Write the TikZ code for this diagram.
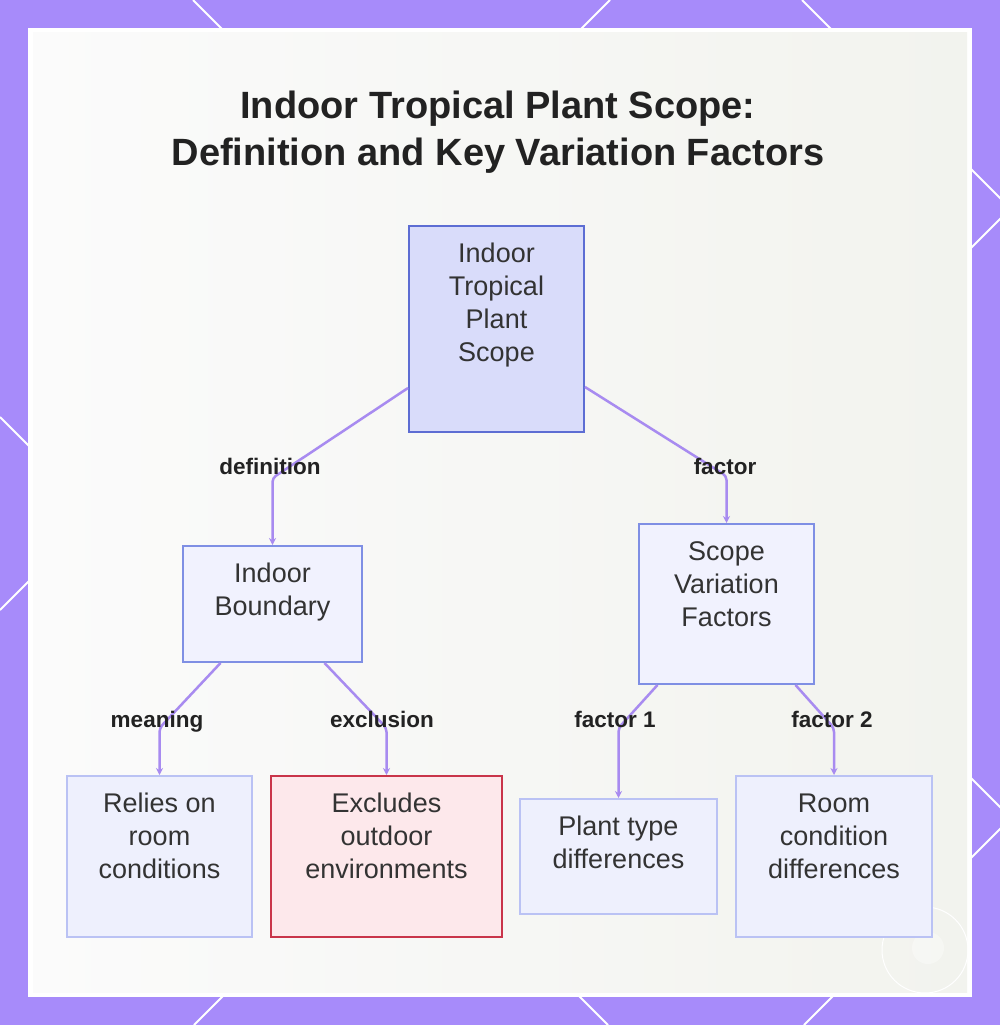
\documentclass[tikz,border=0pt]{standalone}
\usepackage{fontspec}
\setmainfont{Liberation Sans}
\usetikzlibrary{arrows.meta,calc}
\definecolor{framec}{HTML}{A78BFA}
\definecolor{edgec}{HTML}{A88BF0}
\definecolor{titlec}{HTML}{222222}
\definecolor{textc}{HTML}{333333}
\definecolor{rootfill}{HTML}{D9DCFA}
\definecolor{rootdraw}{HTML}{5D6DD3}
\definecolor{midfill}{HTML}{F1F2FE}
\definecolor{middraw}{HTML}{7F8FE4}
\definecolor{leaffill}{HTML}{EEF0FD}
\definecolor{leafdraw}{HTML}{BAC2F4}
\definecolor{exfill}{HTML}{FDE8EB}
\definecolor{exdraw}{HTML}{C9354A}
\definecolor{bgl}{HTML}{FBFBFB}
\definecolor{bgr}{HTML}{F2F3EE}
\newcommand{\boxtxt}[3]{\parbox[c][#2pt][t]{#1pt}{\centering\fontsize{27}{33}\selectfont\color{textc}\rule{0pt}{36pt}#3}}
\tikzset{
  boxbase/.style={rectangle, inner sep=0pt, line width=2pt},
  rootbox/.style={boxbase, draw=rootdraw, fill=rootfill},
  midbox/.style={boxbase, draw=middraw, fill=midfill},
  leafbox/.style={boxbase, draw=leafdraw, fill=leaffill},
  exbox/.style={boxbase, draw=exdraw, fill=exfill},
  conn/.style={draw=edgec, line width=2.5pt, rounded corners=4pt, -{Stealth[length=7pt,width=7pt]}},
  elabel/.style={font=\bfseries\fontsize{22.5}{26}\selectfont, text=titlec, inner sep=0pt, anchor=base},
  gridline/.style={white, line width=2pt}
}
\begin{document}
\begin{tikzpicture}[x=1pt,y=-1pt]
\useasboundingbox (0,0) rectangle (1000,1025);
\fill[framec] (0,0) rectangle (1000,1025);
\begin{scope}
\clip (0,0) rectangle (1000,1025);
\draw[gridline] (0,610) -- (610,0);
\draw[gridline] (194,1025) -- (1219,0);
\draw[gridline] (804,1025) -- (1829,0);
\draw[gridline] (0,417) -- (608,1025);
\draw[gridline] (193,0) -- (1218,1025);
\draw[gridline] (802,0) -- (1827,1025);
\end{scope}
\fill[white] (28,28) rectangle (972,997);
\shade[left color=bgl, right color=bgr] (33,33) rectangle (967,992);
\draw[white, line width=1pt] (925,950) circle[radius=43pt];
\fill[white, opacity=0.35] (928,948) circle[radius=16pt];

\node[font=\bfseries\fontsize{38}{47}\selectfont, text=titlec, align=center] (title) at (498,132)
  {Indoor Tropical Plant Scope:\\Definition and Key Variation Factors};

\node[rootbox] (root) at (496.5,329) {\boxtxt{175}{206}{Indoor\\Tropical\\Plant\\Scope}};
\node[midbox] (ib) at (272.5,604) {\boxtxt{179}{116}{Indoor\\Boundary}};
\node[midbox] (svf) at (726.5,604) {\boxtxt{175}{160}{Scope\\Variation\\Factors}};
\node[leafbox] (rel) at (159.5,856.5) {\boxtxt{185}{161}{Relies on\\room\\conditions}};
\node[exbox] (exc) at (386.5,856.5) {\boxtxt{231}{161}{Excludes\\outdoor\\environments}};
\node[leafbox] (pt) at (618.5,856.5) {\boxtxt{197}{115}{Plant type\\differences}};
\node[leafbox] (rc) at (834,856.5) {\boxtxt{196}{161}{Room\\condition\\differences}};

\draw[conn] ([yshift=-59pt]root.west) -- (272.5,478) -- (ib.north);
\draw[conn] ([yshift=-58pt]root.east) -- (726.5,476) -- (svf.north);
\draw[conn] ([xshift=-52pt]ib.south) -- (159.5,728) -- (rel.north);
\draw[conn] ([xshift=52pt]ib.south) -- (386.5,728) -- (exc.north);
\draw[conn] ([xshift=-69pt]svf.south) -- (618.5,728) -- (pt.north);
\draw[conn] ([xshift=69pt]svf.south) -- (834,728) -- (rc.north);

\node[elabel] (l1) at (270,474) {definition};
\node[elabel] (l2) at (725,474) {factor};
\node[elabel] (l3) at (157,727) {meaning};
\node[elabel] (l4) at (382,727) {exclusion};
\node[elabel] (l5) at (615,727) {factor 1};
\node[elabel] (l6) at (832,727) {factor 2};
\end{tikzpicture}
\end{document}
